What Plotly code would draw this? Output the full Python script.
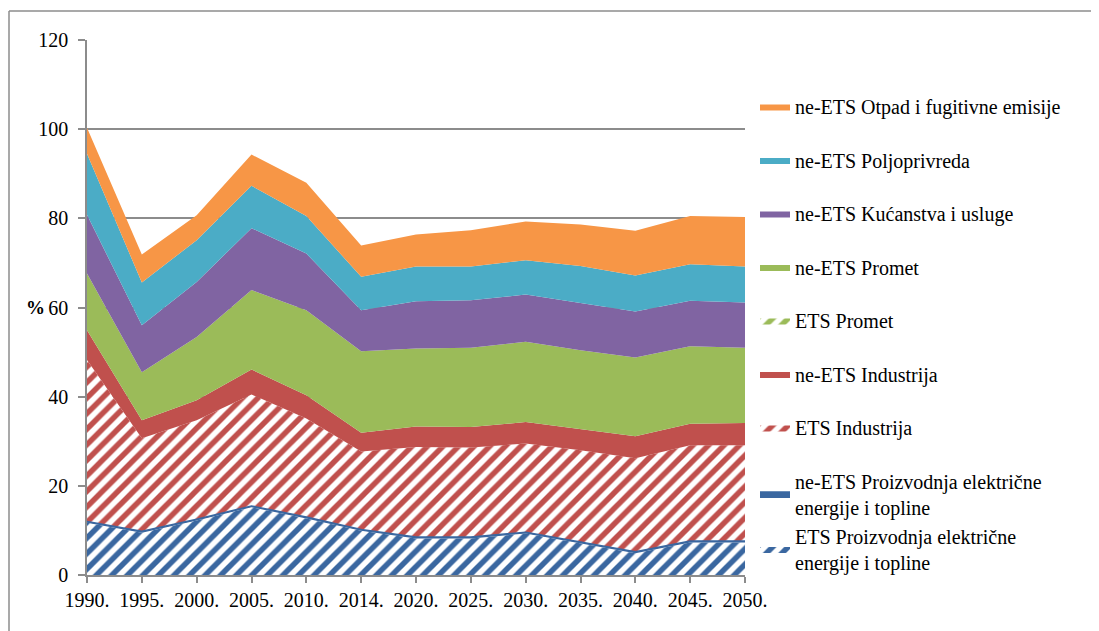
import plotly.graph_objects as go

years = ["1990.", "1995.", "2000.", "2005.", "2010.", "2014.", "2020.",
         "2025.", "2030.", "2035.", "2040.", "2045.", "2050."]

# layer values (%), bottom to top
ets_proizvodnja = [11.7, 9.5, 12.2, 15.2, 12.7, 9.9, 8.2, 8.2, 9.3, 7.1, 4.9, 7.3, 7.3]
ne_ets_proizvodnja = [0.3, 0.3, 0.3, 0.3, 0.3, 0.3, 0.3, 0.3, 0.3, 0.3, 0.3, 0.3, 0.3]
ets_industrija = [36.2, 20.9, 22.2, 25.0, 22.1, 17.5, 20.2, 20.1, 19.9, 20.6, 21.0, 21.5, 21.5]
ne_ets_industrija = [6.7, 4.0, 4.5, 5.6, 5.2, 4.2, 4.6, 4.6, 4.8, 4.7, 4.9, 4.8, 5.0]
ets_promet = [0, 0, 0, 0, 0, 0, 0, 0, 0, 0, 0, 0, 0]
ne_ets_promet = [12.7, 10.8, 14.2, 17.8, 19.1, 18.3, 17.5, 17.8, 18.0, 17.7, 17.7, 17.4, 16.9]
kucanstva = [13.2, 10.5, 12.3, 13.9, 12.7, 9.2, 10.6, 10.6, 10.6, 10.6, 10.3, 10.2, 10.1]
poljoprivreda = [13.7, 9.6, 9.4, 9.5, 8.4, 7.5, 7.8, 7.6, 7.7, 8.3, 8.1, 8.2, 8.1]
otpad = [5.8, 6.3, 5.6, 7.0, 7.5, 7.0, 7.2, 8.1, 8.7, 9.3, 10.0, 10.8, 11.1]

BLUE = "#3A67A0"
RED = "#C0504D"
GREEN = "#9BBB59"
PURPLE = "#8064A2"
TEAL = "#4BACC6"
ORANGE = "#F79646"
GRID = "#8C8C8C"
FONT = "Times New Roman, Liberation Serif, serif"

# page body has an 8px margin, so the figure is drawn 8px in from the corner
OFF = 8
W, H = 1099 - OFF, 631 - OFF
L, R, T, B = 87 - OFF, 745 - OFF, 40 - OFF, 575 - OFF


def px_x(p):
    return (p - OFF - L) / (R - L)


def px_y(p):
    return (B - (p - OFF)) / (B - T)


fig = go.Figure()


def add_layer(name, vals, color, rank, hatched=False, group=None, line_w=0):
    kw = {}
    if hatched:
        kw["fillpattern"] = dict(shape="/", fgcolor=color, bgcolor="white",
                                 fgopacity=1, size=11, solidity=0.5)
        kw["fillcolor"] = "white"
    else:
        kw["fillcolor"] = color
    fig.add_trace(go.Scatter(
        x=years, y=vals, name=name, mode="lines", stackgroup="one",
        line=dict(width=line_w, color=color), legendrank=rank,
        legendgroup=group or name, **kw))


add_layer("ETS Proizvodnja električne<br>energije i topline", ets_proizvodnja, BLUE, 9,
          hatched=True, group="proizvodnja")
add_layer("ne-ETS Proizvodnja električne<br>energije i topline", ne_ets_proizvodnja, BLUE, 8,
          group="proizvodnja", line_w=1.5)
add_layer("ETS Industrija", ets_industrija, RED, 7, hatched=True)
add_layer("ne-ETS Industrija", ne_ets_industrija, RED, 6)
add_layer("ETS Promet", ets_promet, GREEN, 5, hatched=True)
add_layer("ne-ETS Promet", ne_ets_promet, GREEN, 4)
add_layer("ne-ETS Kućanstva i usluge", kucanstva, PURPLE, 3)
add_layer("ne-ETS Poljoprivreda", poljoprivreda, TEAL, 2)
add_layer("ne-ETS Otpad i fugitivne emisije", otpad, ORANGE, 1)

fig.update_xaxes(
    type="category", range=[0, len(years) - 1], showgrid=False,
    showline=True, linecolor=GRID, linewidth=1.5,
    ticks="outside", ticklen=6, tickcolor=GRID, tickwidth=1.5,
    tickfont=dict(family=FONT, size=20, color="black"))
fig.update_yaxes(
    range=[0, 120], dtick=20, showgrid=True, gridcolor=GRID, gridwidth=1.5,
    showline=True, linecolor=GRID, linewidth=1.5, zeroline=False,
    ticks="outside", ticklen=7, tickcolor=GRID, tickwidth=1.5,
    ticklabelstandoff=6,
    tickfont=dict(family=FONT, size=20, color="black"))

fig.add_annotation(text="<b>%</b>", x=px_x(24), y=px_y(307), xref="paper", yref="paper",
                   showarrow=False, font=dict(family=FONT, size=19, color="black"))

# chart-area frame (left and top edges are visible)
fig.add_shape(type="line", xref="paper", yref="paper",
              x0=px_x(9), x1=px_x(1105), y0=px_y(11), y1=px_y(11),
              line=dict(color=GRID, width=1.5))
fig.add_shape(type="line", xref="paper", yref="paper",
              x0=px_x(9), x1=px_x(9), y0=px_y(11), y1=px_y(640),
              line=dict(color=GRID, width=1.5))

fig.update_layout(
    width=W, height=H,
    margin=dict(l=L, r=W - R, t=T, b=H - B),
    paper_bgcolor="white", plot_bgcolor="white",
    showlegend=True,
    legend=dict(
        traceorder="grouped", tracegroupgap=24.5,
        x=px_x(755), xanchor="left", y=px_y(87), yanchor="top",
        font=dict(family=FONT, size=20, color="black"),
        itemwidth=30, bgcolor="rgba(0,0,0,0)"),
    font=dict(family=FONT, color="black"),
)

fig.write_html("out.html")
